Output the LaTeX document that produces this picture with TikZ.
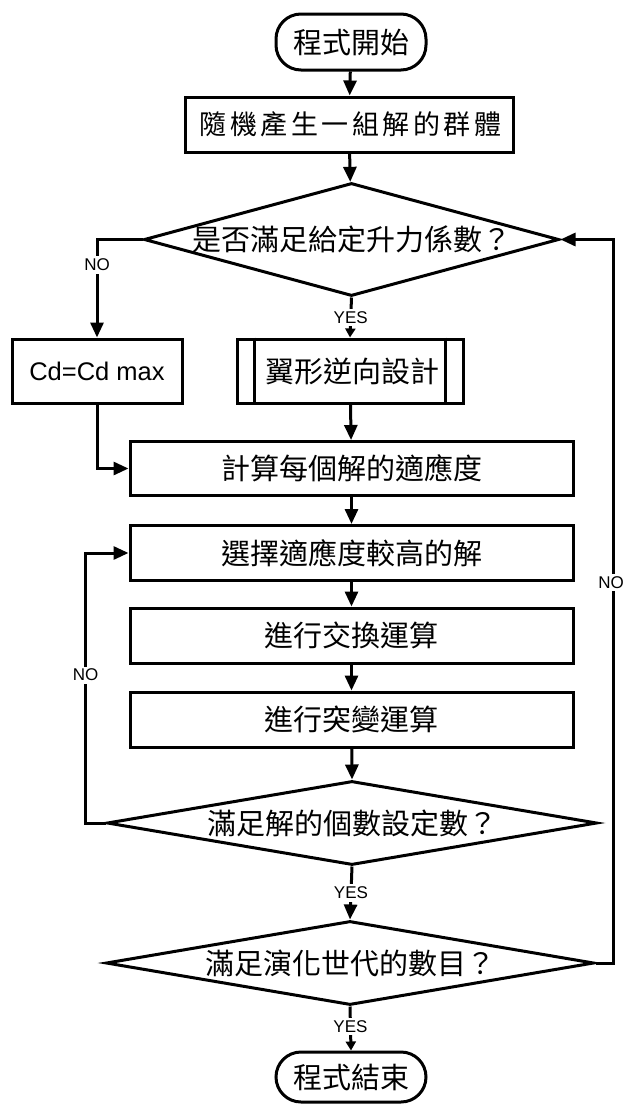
\documentclass[tikz,border=0pt]{standalone}
\usepackage{fontspec}
\setmainfont{Liberation Sans}
\newfontfamily\cjk{Noto Sans CJK TC}
\newfontfamily\cjkwide{Noto Sans CJK TC}[LetterSpace=13]
\usetikzlibrary{shapes.geometric,arrows.meta}
\begin{document}
\begin{tikzpicture}[x=1pt,y=-1pt,line width=3pt,
  cjkfont/.style={font=\cjk\fontsize{29}{31}\selectfont},
  box/.style={draw,rectangle,inner sep=0pt,minimum width=#1,minimum height=55pt,cjkfont},
  term/.style={draw,rectangle,rounded corners=25pt,inner sep=0pt,minimum width=150pt,cjkfont},
  decision/.style={draw,diamond,inner sep=0pt,minimum width=#1},
  arr/.style={-{Triangle[length=15pt,width=13pt]}},
  sarr/.style={-{Triangle[length=9pt,width=10pt]}},
  lbl/.style={fill=white,inner sep=2.5pt,line width=0pt,font=\fontsize{17}{19}\selectfont}]
\useasboundingbox (0,0) rectangle (624,1104);
\fill[white] (0,0) rectangle (624,1104);

\node[term,minimum height=56pt] (start) at (351,42) {程式開始};
\node[box=328,font=\cjkwide\fontsize{27}{30}\selectfont] (init) at (349,124.5) {\hspace*{3pt}隨機產生一組解的群體};
\node[decision=415,minimum height=113pt,
  label={[cjkfont]center:是否滿足給定升力係數？}] (d1) at (351.5,239.5) {};
\node[box=170,minimum height=64pt,font=\fontsize{25.5}{28}\selectfont] (cd) at (97,371) {Cd=Cd max};
\node[box=226,minimum height=64pt] (inv) at (350,371) {\hspace*{4pt}翼形逆向設計};
\draw ([xshift=19pt]inv.north west) -- ([xshift=19pt]inv.south west);
\draw ([xshift=-19pt]inv.north east) -- ([xshift=-19pt]inv.south east);
\node[box=443,minimum height=54pt] (calc) at (351.5,468.5) {計算每個解的適應度};
\node[box=443] (sel) at (351.5,553) {選擇適應度較高的解};
\node[box=443] (cross) at (351.5,635.5) {進行交換運算};
\node[box=443] (mut) at (351.5,719.5) {進行突變運算};
\node[decision=490,minimum height=84pt,
  label={[cjkfont]center:滿足解的個數設定數？}] (d2) at (352,823) {};
\node[decision=488,minimum height=84pt,
  label={[cjkfont]center:滿足演化世代的數目？}] (d3) at (350,963) {};
\node[term,minimum height=50pt] (end) at (351,1077) {程式結束};

\draw[arr] (start) -- (init);
\draw[arr] (init) -- (d1);
\draw[arr] (d1.west) -| node[lbl,pos=0.63]{NO} (cd.north);
\draw[sarr] (d1.south) -- node[lbl,pos=0.5]{YES} (inv.north);
\draw[arr] (cd.south) |- (calc.west);
\draw[arr] (inv) -- (calc);
\draw[arr] (calc) -- (sel);
\draw[arr] (sel) -- (cross);
\draw[arr] (cross) -- (mut);
\draw[arr] (mut) -- (d2.north);
\draw[arr] (d2.west) -- ++(-20,0) |- node[lbl,pos=0.274]{NO} (sel.west);
\draw[arr] (d2.south) -- node[lbl,pos=0.5]{YES} (d3.north);
\draw[arr] (d3.east) -- ++(18,0) |- node[lbl,pos=0.263,xshift=-2.5pt,inner xsep=1pt]{NO} (d1.east);
\draw[sarr] (d3.south) -- node[lbl,pos=0.45]{YES} (end.north);
\end{tikzpicture}
\end{document}
